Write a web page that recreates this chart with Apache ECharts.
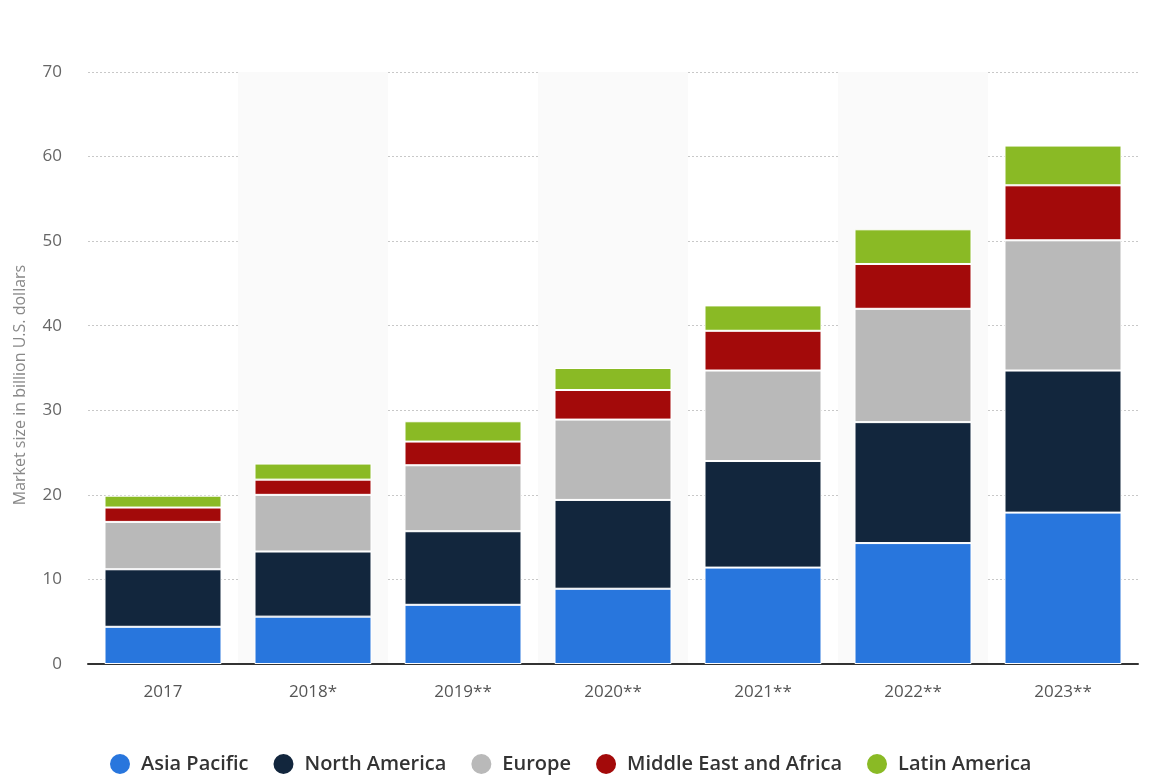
<!DOCTYPE html>
<html>
<head>
<meta charset="utf-8">
<script src="https://cdn.jsdelivr.net/npm/echarts@6/dist/echarts.min.js"></script>
<style>
html,body{margin:0;padding:0;background:#fff;}
#chart{width:1165px;height:776px;}
</style>
</head>
<body>
<div id="chart"></div>
<script>
const categories = ['2017', '2018*', '2019**', '2020**', '2021**', '2022**', '2023**'];
const asiaPacific = [4.4, 5.6, 7.0, 8.9, 11.4, 14.3, 17.9];
const northAmerica = [6.8, 7.7, 8.7, 10.5, 12.6, 14.3, 16.8];
const europe = [5.6, 6.7, 7.8, 9.5, 10.7, 13.4, 15.4];
const middleEastAfrica = [1.7, 1.8, 2.8, 3.5, 4.7, 5.3, 6.5];
const latinAmerica = [1.4, 1.9, 2.4, 2.6, 3.0, 4.1, 4.7];
const yTicks = [0, 10, 20, 30, 40, 50, 60, 70];
const yAxisTitle = 'Market size in billion U.S. dollars';

const seriesDefs = [
  ['Asia Pacific', asiaPacific, '#2876dd'],
  ['North America', northAmerica, '#12263d'],
  ['Europe', europe, '#b9b9b9'],
  ['Middle East and Africa', middleEastAfrica, '#a30a0a'],
  ['Latin America', latinAmerica, '#8aba25']
];

const chart = echarts.init(document.getElementById('chart'));
chart.setOption({
  animation: false,
  color: seriesDefs.map(s => s[2]),
  grid: {left: 88, right: 27, top: 72, bottom: 112, containLabel: false},
  legend: {
    top: 752,
    left: 108,
    padding: 0,
    icon: 'circle',
    itemWidth: 22,
    itemHeight: 22,
    itemGap: 23,
    textStyle: {fontFamily: 'Open Sans', fontSize: 20, fontWeight: 600, color: '#333', padding: [0, 0, 0, 5]}
  },
  graphic: [{
    type: 'text',
    x: 20,
    y: 385,
    rotation: Math.PI / 2,
    style: {
      text: yAxisTitle,
      fontFamily: 'Open Sans',
      fontSize: 16,
      fill: '#888',
      align: 'center',
      verticalAlign: 'middle'
    }
  }],
  xAxis: {
    type: 'category',
    data: categories,
    axisLine: {show: true, lineStyle: {color: '#333', width: 2}},
    axisTick: {show: false},
    axisLabel: {fontFamily: 'Open Sans', fontSize: 17, color: '#555', margin: 20},
    splitArea: {show: true, areaStyle: {color: ['rgba(255,255,255,0)', '#fafafa']}}
  },
  yAxis: {
    type: 'value',
    min: yTicks[0],
    max: yTicks[yTicks.length - 1],
    interval: 10,
    axisLine: {show: false},
    axisTick: {show: false},
    axisLabel: {fontFamily: 'Open Sans', fontSize: 17, color: '#666', margin: 26},
    splitLine: {show: true, lineStyle: {color: '#c8c8c8', type: [2, 2], width: 1}}
  },
  series: seriesDefs.map(([name, data, color]) => ({
    name,
    type: 'bar',
    stack: 'total',
    data,
    barWidth: 117,
    itemStyle: {color, borderColor: '#fff', borderWidth: 1},
    emphasis: {disabled: true}
  }))
});
</script>
</body>
</html>
